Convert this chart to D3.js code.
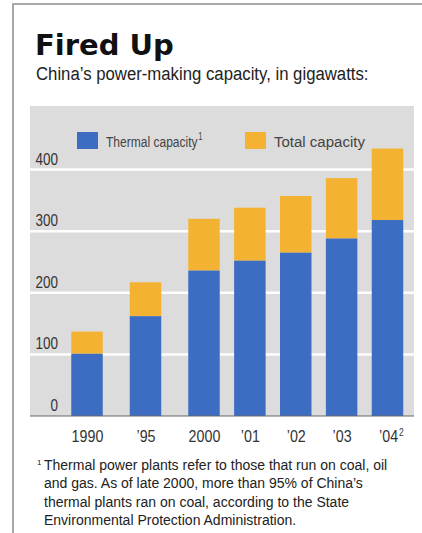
<!DOCTYPE html>
<html>
<head>
<meta charset="utf-8">
<script src="https://cdn.jsdelivr.net/npm/d3@7"></script>
<style>
  body { margin: 0; background: #fff; }
  text { font-family: "Liberation Sans", Arial, sans-serif; }
</style>
</head>
<body>
<div id="chart"></div>
<script>
// Chart data (gigawatts)
var years = [1990, 1995, 2000, 2001, 2002, 2003, 2004];
var yearLabels = ["1990", "\u201995", "2000", "\u201901", "\u201902", "\u201903", "\u201904"];
var thermal = [101, 162, 236, 252, 265, 288, 318];
var total = [137, 217, 320, 338, 357, 386, 434];
var yTicks = [0, 100, 200, 300, 400];
var footnote = [
  "Thermal power plants refer to those that run on coal, oil",
  "and gas. As of late 2000, more than 95% of China\u2019s",
  "thermal plants ran on coal, according to the State",
  "Environmental Protection Administration."
];

var W = 422, H = 533;
var blue = "#3d6dc2", orange = "#f3b232", panel = "#dcdcdc";

// squeeze text horizontally to mimic the condensed newspaper face
function condense(sel, k) {
  sel.each(function () {
    var w = this.getComputedTextLength();
    d3.select(this).attr("textLength", w * k).attr("lengthAdjust", "spacingAndGlyphs");
  });
}

var svg = d3.select("#chart").append("svg")
  .attr("width", W)
  .attr("height", H);

// frame lines (top + left)
svg.append("line").attr("x1", 12).attr("x2", W).attr("y1", 4).attr("y2", 4)
  .attr("stroke", "#a8a8a8").attr("stroke-width", 2);
svg.append("line").attr("x1", 13).attr("x2", 13).attr("y1", 4).attr("y2", H)
  .attr("stroke", "#a8a8a8").attr("stroke-width", 2);

// title + subtitle
svg.append("text")
  .attr("x", 35).attr("y", 55)
  .style("font-family", "'DejaVu Sans', 'Liberation Sans', sans-serif")
  .style("font-weight", "bold")
  .style("font-size", "29px")
  .attr("fill", "#111")
  .text("Fired Up");
svg.append("text")
  .attr("x", 36).attr("y", 80)
  .style("font-size", "18px")
  .attr("fill", "#222")
  .text("China\u2019s power-making capacity, in gigawatts:")
  .call(condense, 0.93);

// plot area
var panelLeft = 30, panelRight = 414, panelTop = 106;
var y = d3.scaleLinear().domain([0, 400]).range([416, 169.5]);
// bars are not evenly spaced: 5-year gap first, then yearly
var x = d3.scaleLinear().domain([1990, 2000, 2004]).range([87, 204, 387.5]);
var barW = 31.5;

svg.append("rect")
  .attr("x", panelLeft).attr("y", panelTop)
  .attr("width", panelRight - panelLeft).attr("height", y(0) - panelTop)
  .attr("fill", panel);

// white gridlines
svg.selectAll(".grid")
  .data(yTicks.filter(function (d) { return d > 0; }))
  .enter().append("line")
  .attr("class", "grid")
  .attr("x1", panelLeft).attr("x2", panelRight)
  .attr("y1", function (d) { return y(d); })
  .attr("y2", function (d) { return y(d); })
  .attr("stroke", "#fff").attr("stroke-width", 2.5);

// y tick labels sit just above their gridline
svg.selectAll(".ylab")
  .data(yTicks)
  .enter().append("text")
  .attr("class", "ylab")
  .attr("x", 58)
  .attr("y", function (d) { return y(d) - 5; })
  .attr("text-anchor", "end")
  .style("font-size", "16px")
  .attr("fill", "#333")
  .text(function (d) { return d; })
  .call(condense, 0.84);

// stacked bars: thermal at bottom, the rest of total on top
var rows = years.map(function (yr, i) {
  return { year: yr, thermal: thermal[i], total: total[i] };
});

svg.selectAll(".bar-total")
  .data(rows)
  .enter().append("rect")
  .attr("class", "bar-total")
  .attr("x", function (d) { return x(d.year) - barW / 2; })
  .attr("y", function (d) { return y(d.total); })
  .attr("width", barW)
  .attr("height", function (d) { return y(d.thermal) - y(d.total); })
  .attr("fill", orange);

svg.selectAll(".bar-thermal")
  .data(rows)
  .enter().append("rect")
  .attr("class", "bar-thermal")
  .attr("x", function (d) { return x(d.year) - barW / 2; })
  .attr("y", function (d) { return y(d.thermal); })
  .attr("width", barW)
  .attr("height", function (d) { return y(0) - y(d.thermal); })
  .attr("fill", blue);

// baseline
svg.append("line")
  .attr("x1", panelLeft).attr("x2", panelRight)
  .attr("y1", y(0)).attr("y2", y(0))
  .attr("stroke", "#666").attr("stroke-width", 1.2);

// x axis labels
var xAxis = svg.append("g")
  .attr("transform", "translate(0," + y(0) + ")")
  .call(d3.axisBottom(x)
    .tickValues(years)
    .tickSize(0)
    .tickPadding(14)
    .tickFormat(function (d, i) { return yearLabels[i]; }));
xAxis.select(".domain").remove();
// superscript note marker on the last label
xAxis.selectAll(".tick").filter(function (d) { return d === 2004; })
  .select("text")
  .attr("dx", 4)
  .append("tspan")
  .attr("dx", 1)
  .attr("dy", -6)
  .style("font-size", "10px")
  .text("2");
xAxis.selectAll(".tick text")
  .style("font-family", "'Liberation Sans', Arial, sans-serif")
  .style("font-size", "17px")
  .attr("fill", "#333")
  .attr("transform", "scale(0.84,1)");

// legend
var legend = [
  { label: "Thermal capacity", color: blue, sup: "1", x: 77, w: 96 },
  { label: "Total capacity", color: orange, sup: "", x: 245, w: 91 }
];
var lg = svg.selectAll(".legend")
  .data(legend)
  .enter().append("g")
  .attr("class", "legend")
  .attr("transform", function (d) { return "translate(" + d.x + ",132)"; });
lg.append("rect")
  .attr("width", 21).attr("height", 17)
  .attr("fill", function (d) { return d.color; });
// label + superscript in one text, squeezed with a horizontal scale
var lt = lg.append("text")
  .attr("y", 15)
  .style("font-size", "15.5px")
  .attr("fill", "#444")
  .text(function (d) { return d.label; });
lt.append("tspan")
  .attr("dx", 1)
  .attr("dy", -7)
  .style("font-size", "10px")
  .text(function (d) { return d.sup; });
lt.attr("transform", function (d) {
  var k = Math.min(1, d.w / this.getComputedTextLength());
  return "translate(29,0) scale(" + k + ",1)";
});

// footnote
svg.append("text")
  .attr("x", 37).attr("y", 465)
  .style("font-size", "8px")
  .attr("fill", "#222")
  .text("1");
svg.selectAll(".foot")
  .data(footnote)
  .enter().append("text")
  .attr("class", "foot")
  .attr("x", 44)
  .attr("y", function (d, i) { return 470 + i * 18.3; })
  .style("font-size", "14px")
  .attr("fill", "#222")
  .text(function (d) { return d; });
</script>
</body>
</html>
